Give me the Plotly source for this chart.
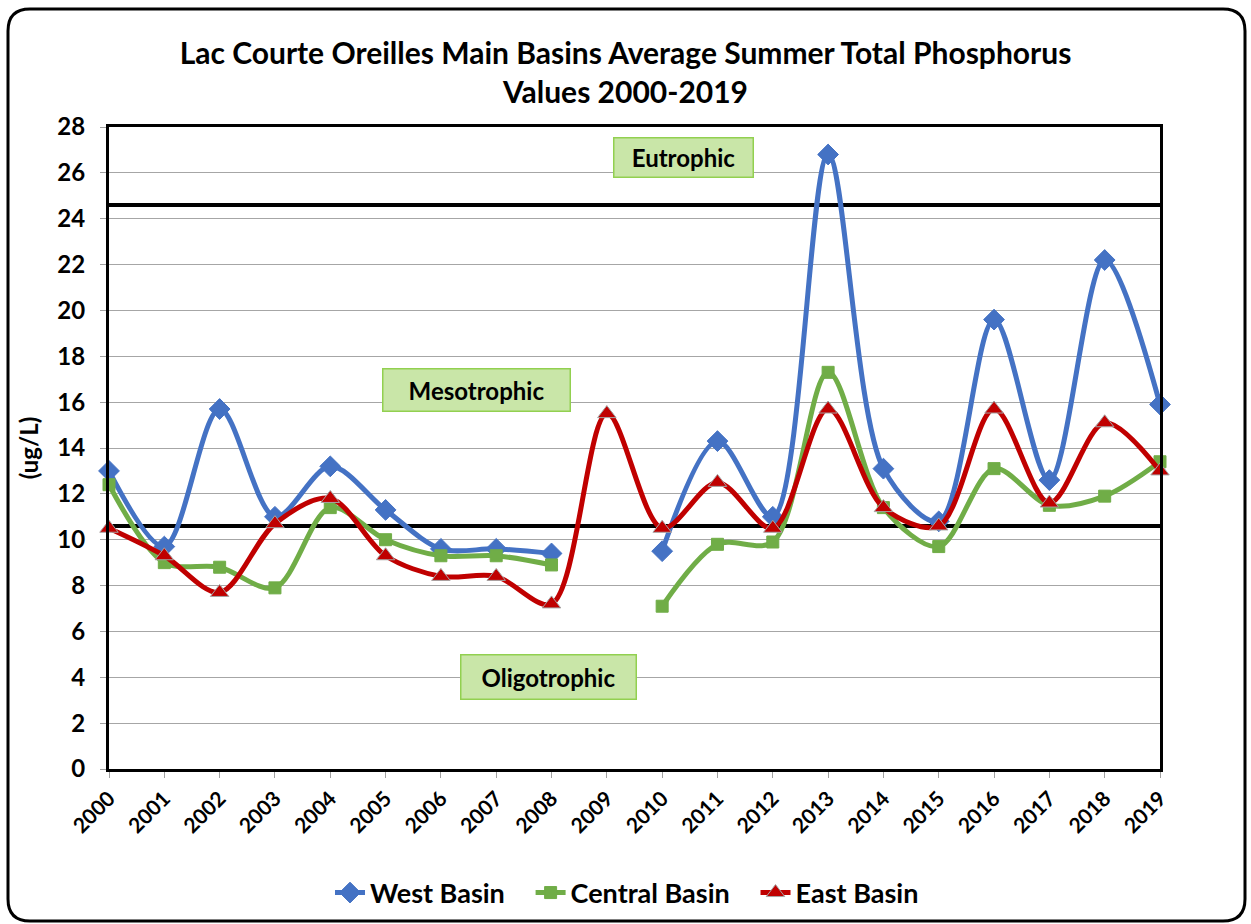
import plotly.graph_objects as go

years = [str(y) for y in range(2000, 2020)]

west_basin = [13.0, 9.7, 15.7, 11.0, 13.2, 11.3, 9.6, 9.6, 9.4, None,
              9.5, 14.3, 11.0, 26.8, 13.1, 10.8, 19.6, 12.6, 22.2, 15.9]
central_basin = [12.4, 9.0, 8.8, 7.9, 11.4, 10.0, 9.3, 9.3, 8.9, None,
                 7.1, 9.8, 9.9, 17.3, 11.4, 9.7, 13.1, 11.5, 11.9, 13.4]
east_basin = [10.5, 9.3, 7.7, 10.7, 11.8, 9.3, 8.4, 8.4, 7.2, 15.5,
              10.5, 12.5, 10.5, 15.7, 11.4, 10.6, 15.7, 11.6, 15.1, 13.0]

# trophic state boundaries (ug/L)
meso_low = 10.6
eutro_low = 24.6

FONT = "Lato, 'Open Sans', sans-serif"

# plot area in pixels (used to place the outer frame)
W, H = 1251, 924
L, R, T, B = 109, 91, 127, 155
pw, ph = W - L - R, H - T - B


def px_x(x):
    return (x - L) / pw


def px_y(y):
    return (H - B - y) / ph


fig = go.Figure()

for lvl in (meso_low, eutro_low):
    fig.add_trace(go.Scatter(
        x=[years[0], years[-1]], y=[lvl, lvl], mode="lines",
        line=dict(color="black", width=4), showlegend=False, hoverinfo="skip",
    ))

series = [
    ("West Basin", west_basin, "#4472C4", "diamond", 16, "#4472C4", "&nbsp;&nbsp;&nbsp;"),
    ("Central Basin", central_basin, "#70AD47", "square", 12, "#70AD47", "&nbsp;&nbsp;&nbsp;"),
    ("East Basin", east_basin, "#C00000", "triangle-up", 16, "#A5A5A5", ""),
]
for name, vals, color, sym, size, edge, pad in series:
    fig.add_trace(go.Scatter(
        x=years, y=vals, name=f"<b>{name}</b>{pad}", mode="lines+markers",
        line=dict(color=color, width=5, shape="spline", smoothing=0.9),
        marker=dict(symbol=sym, size=size, color=color, line=dict(color=edge, width=1)),
        connectgaps=False, cliponaxis=False,
    ))

boxes = [("Eutrophic", 10.39, 26.65, 140, 40),
         ("Mesotrophic", 6.65, 16.53, 188, 43),
         ("Oligotrophic", 7.95, 4.01, 176, 45)]
for txt, bx, by, bw, bh in boxes:
    fig.add_annotation(
        x=bx, y=by, xref="x", yref="y", text=f"<b>{txt}</b>", showarrow=False,
        width=bw - 4, height=bh - 4, bgcolor="#C9E6A8", bordercolor="#92D050",
        borderwidth=1.5, font=dict(family=FONT, size=24, color="black"),
    )

# rounded outer frame
x0, x1, y0, y1, rad = px_x(8), px_x(1245), px_y(9), px_y(921), 22
rx, ry = rad / pw, rad / ph
path = (f"M {x0+rx},{y0} L {x1-rx},{y0} Q {x1},{y0} {x1},{y0-ry} "
        f"L {x1},{y1+ry} Q {x1},{y1} {x1-rx},{y1} L {x0+rx},{y1} "
        f"Q {x0},{y1} {x0},{y1+ry} L {x0},{y0-ry} Q {x0},{y0} {x0+rx},{y0} Z")
fig.add_shape(type="path", path=path, xref="paper", yref="paper",
              line=dict(color="black", width=3))

fig.update_layout(
    width=W, height=H,
    margin=dict(l=L, r=R, t=T, b=B, autoexpand=False),
    paper_bgcolor="white", plot_bgcolor="white",
    font=dict(family=FONT, color="black"),
    title=dict(
        text="<b>Lac Courte Oreilles Main Basins Average Summer Total Phosphorus<br>Values 2000-2019</b>",
        x=0.5, xanchor="center", y=1 - 64 / H, yanchor="middle",
        font=dict(family=FONT, size=30, color="black"),
    ),
    legend=dict(
        orientation="h", x=px_x(330), xanchor="left", y=px_y(893), yanchor="middle",
        font=dict(family=FONT, size=27, color="black"),
        traceorder="normal",
    ),
    showlegend=True,
)

fig.update_xaxes(
    type="category", categoryorder="array", categoryarray=years,
    range=[0, 19], tickangle=-45, automargin=False,
    tickfont=dict(family=FONT, size=21, color="black"),
    showline=True, linecolor="black", linewidth=3, mirror=True,
    ticks="outside", ticklen=6, tickcolor="#A0A0A0",
    showgrid=False, zeroline=False,
    tickprefix="<b>", ticksuffix="</b>",
)
fig.update_yaxes(
    range=[0, 28], dtick=2, automargin=False,
    tickfont=dict(family=FONT, size=24, color="black"),
    tickprefix="<b>", ticksuffix="</b>", ticklabelstandoff=10,
    showline=True, linecolor="black", linewidth=3, mirror=True,
    ticks="outside", ticklen=6, tickcolor="#A0A0A0",
    showgrid=True, gridcolor="#A6A6A6", gridwidth=1, zeroline=False,
    title=dict(text="<b>(ug/L)</b>", font=dict(family=FONT, size=24, color="black"), standoff=12),
)

fig.write_html("out.html", config={"displayModeBar": False},
               post_script="document.body.style.margin='0px';")
